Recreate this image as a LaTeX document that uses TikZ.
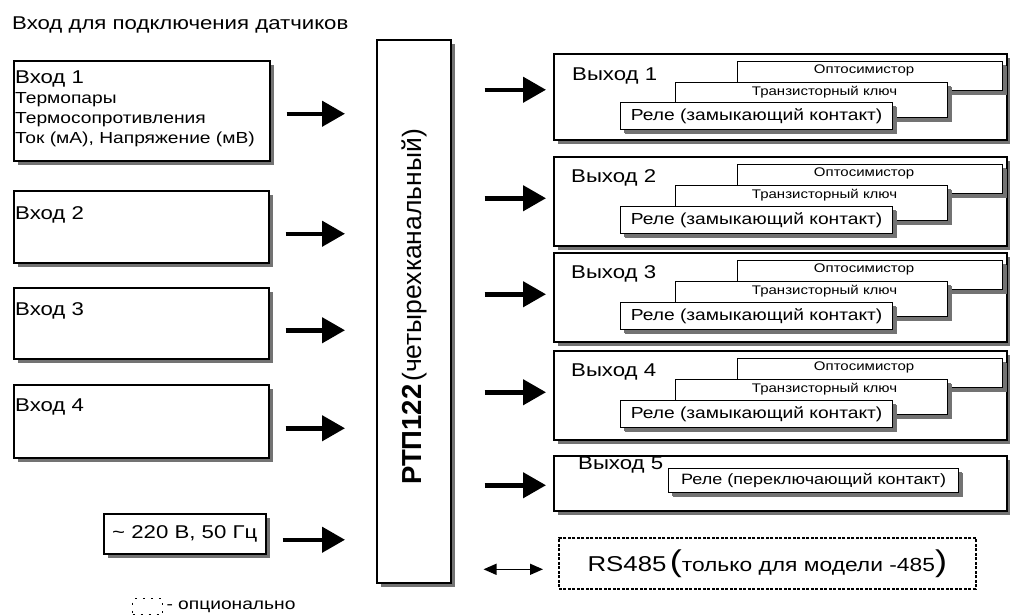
\documentclass[tikz,border=0pt]{standalone}
\usepackage{fontspec}
\setmainfont{Liberation Sans}[FakeStretch=1.2]
\newfontfamily\rotfont{Liberation Sans}
\usetikzlibrary{positioning,shadows,arrows.meta}

\begin{document}
\begin{tikzpicture}[x=1pt,y=-1pt,
	box/.style={draw,line width=1.5pt,fill=white,inner sep=0pt,anchor=north west,
		drop shadow={shadow xshift=4pt,shadow yshift=-4pt,fill=black!55,opacity=1}},
	inbox/.style={box,line width=1.2pt,
		drop shadow={shadow xshift=3pt,shadow yshift=-3pt,fill=black!55,opacity=1}},
	lbl/.style={anchor=north west,inner sep=0pt,align=left,font=\fontsize{18.5}{22}\selectfont},
	big/.style={font=\fontsize{18.5}{22}\selectfont},
	sub/.style={font=\fontsize{16}{20}\selectfont},
	tiny/.style={font=\fontsize{12.5}{14}\selectfont},
	bigarrow/.style={line width=4.5pt,-{Triangle[length=23pt,width=25pt]}},
	inarrow/.style={bigarrow,shorten <=16pt,shorten >=31pt},
	outarrow/.style={bigarrow,shorten <=33pt,shorten >=7pt},
	opt/.style={draw,dashed,fill=white,anchor=north west,inner sep=0pt}]

	\useasboundingbox (0,0) rectangle (1010,616);

	\node[anchor=west,inner sep=0pt,font=\fontsize{18.5}{22}\selectfont] (title) at (12,25) {Вход для подключения датчиков};

	% inputs
	\node[box,minimum width=256pt,minimum height=100pt] (in1) at (13,60) {};
	\node[lbl,sub] (in1t) at (15,71) {{\fontsize{18.5}{22}\selectfont Вход 1}\\Термопары\\Термосопротивления\\Ток (мА), Напряжение (мВ)};
	\node[box,minimum width=255pt,minimum height=72pt] (in2) at (13,190) {};
	\node[lbl] (in2t) at (15,206) {Вход 2};
	\node[box,minimum width=255pt,minimum height=71pt] (in3) at (13,287) {};
	\node[lbl] (in3t) at (15,302) {Вход 3};
	\node[box,minimum width=255pt,minimum height=73pt] (in4) at (13,384) {};
	\node[lbl] (in4t) at (15,399) {Вход 4};
	\node[box,big,minimum width=162pt,minimum height=40pt] (pwr) at (103,513) {\textasciitilde{} 220 В, 50 Гц};

	% device
	\node[box,minimum width=74pt,minimum height=543pt] (rtp) at (376,39) {};
	\node[rotate=90,inner sep=0pt,font=\rotfont] (rtpt) at (414,307) {{\fontsize{27.5}{30}\selectfont\bfseries РТП122} {\fontsize{26.5}{30}\selectfont(четырехканальный)}};

	\draw[inarrow] ([yshift=-3pt]in1.east) -- ([yshift=-3pt]in1.east -| rtp.west);
	\draw[inarrow] ([yshift=-7pt]in2.east) -- ([yshift=-7pt]in2.east -| rtp.west);
	\draw[inarrow] ([yshift=-7pt]in3.east) -- ([yshift=-7pt]in3.east -| rtp.west);
	\draw[inarrow] ([yshift=-7pt]in4.east) -- ([yshift=-7pt]in4.east -| rtp.west);
	\draw[inarrow] ([yshift=-6pt]pwr.east) -- ([yshift=-6pt]pwr.east -| rtp.west);

	% outputs 1-4
	\node[box,minimum width=453pt,minimum height=86pt] (out1) at (553,53) {};
	\node[big,anchor=west,inner sep=0pt] (out1t) at ([shift={(19pt,-23pt)}]out1.north west) {Выход 1};
	\node[inbox,minimum width=265pt,minimum height=29pt] (opto1) at ([shift={(184pt,-8pt)}]out1.north west) {};
	\node[tiny] at ([shift={(-6pt,-9pt)}]opto1.north) {Оптосимистор};
	\node[inbox,minimum width=272pt,minimum height=35pt] (tr1) at ([shift={(122pt,-29pt)}]out1.north west) {};
	\node[tiny] at ([shift={(13pt,-10pt)}]tr1.north) {Транзисторный ключ};
	\node[inbox,sub,minimum width=272pt,minimum height=27pt] (rel1) at ([shift={(67pt,-49pt)}]out1.north west) {Реле (замыкающий контакт)};

	\node[box,minimum width=453pt,minimum height=89pt] (out2) at (553,156) {};
	\node[big,anchor=west,inner sep=0pt] (out2t) at ([shift={(18pt,-22pt)}]out2.north west) {Выход 2};
	\node[inbox,minimum width=265pt,minimum height=29pt] (opto2) at ([shift={(184pt,-8pt)}]out2.north west) {};
	\node[tiny] at ([shift={(-6pt,-9pt)}]opto2.north) {Оптосимистор};
	\node[inbox,minimum width=272pt,minimum height=35pt] (tr2) at ([shift={(122pt,-29pt)}]out2.north west) {};
	\node[tiny] at ([shift={(13pt,-10pt)}]tr2.north) {Транзисторный ключ};
	\node[inbox,sub,minimum width=272pt,minimum height=27pt] (rel2) at ([shift={(67pt,-50pt)}]out2.north west) {Реле (замыкающий контакт)};

	\node[box,minimum width=453pt,minimum height=89pt] (out3) at (553,252) {};
	\node[big,anchor=west,inner sep=0pt] (out3t) at ([shift={(18pt,-22pt)}]out3.north west) {Выход 3};
	\node[inbox,minimum width=265pt,minimum height=29pt] (opto3) at ([shift={(184pt,-8pt)}]out3.north west) {};
	\node[tiny] at ([shift={(-6pt,-9pt)}]opto3.north) {Оптосимистор};
	\node[inbox,minimum width=272pt,minimum height=35pt] (tr3) at ([shift={(122pt,-29pt)}]out3.north west) {};
	\node[tiny] at ([shift={(13pt,-10pt)}]tr3.north) {Транзисторный ключ};
	\node[inbox,sub,minimum width=272pt,minimum height=27pt] (rel3) at ([shift={(67pt,-50pt)}]out3.north west) {Реле (замыкающий контакт)};

	\node[box,minimum width=453pt,minimum height=89pt] (out4) at (553,350) {};
	\node[big,anchor=west,inner sep=0pt] (out4t) at ([shift={(18pt,-22pt)}]out4.north west) {Выход 4};
	\node[inbox,minimum width=265pt,minimum height=29pt] (opto4) at ([shift={(184pt,-8pt)}]out4.north west) {};
	\node[tiny] at ([shift={(-6pt,-9pt)}]opto4.north) {Оптосимистор};
	\node[inbox,minimum width=272pt,minimum height=35pt] (tr4) at ([shift={(122pt,-29pt)}]out4.north west) {};
	\node[tiny] at ([shift={(13pt,-10pt)}]tr4.north) {Транзисторный ключ};
	\node[inbox,sub,minimum width=272pt,minimum height=27pt] (rel4) at ([shift={(67pt,-50pt)}]out4.north west) {Реле (замыкающий контакт)};

	% output 5 and RS485
	\node[box,minimum width=453pt,minimum height=55pt] (out5) at (553,455) {};
	\node[big,anchor=west,inner sep=0pt] (out5t) at ([shift={(25pt,-10pt)}]out5.north west) {Выход 5};
	\node[inbox,font=\fontsize{15}{18}\selectfont,minimum width=290pt,minimum height=24pt] (rel5) at (668,468) {Реле (переключающий контакт)};

	\node[opt,line width=1.6pt,dash pattern=on 3pt off 1.5pt,minimum width=417pt,minimum height=51pt] (rs) at (558,537)
		{{\fontsize{21.5}{24}\selectfont RS485} {\fontsize{30}{30}\selectfont(}{\fontsize{19}{22}\selectfont только для модели -485}{\fontsize{30}{30}\selectfont)}};

	\draw[outarrow] ([yshift=7pt]out1.west -| rtp.east) -- ([yshift=7pt]out1.west);
	\draw[outarrow] ([yshift=3pt]out2.west -| rtp.east) -- ([yshift=3pt]out2.west);
	\draw[outarrow] ([yshift=3pt]out3.west -| rtp.east) -- ([yshift=3pt]out3.west);
	\draw[outarrow] ([yshift=3pt]out4.west -| rtp.east) -- ([yshift=3pt]out4.west);
	\draw[outarrow] ([yshift=-2pt]out5.west -| rtp.east) -- ([yshift=-2pt]out5.west);
	\draw[{Triangle[length=13pt,width=11pt]}-{Triangle[length=13pt,width=11pt]},line width=1.4pt,shorten <=32pt,shorten >=15pt]
		([yshift=-6pt]rs.west -| rtp.east) -- ([yshift=-6pt]rs.west);

	% legend
	\node[opt,line width=1.3pt,dash pattern=on 2pt off 6pt,minimum width=30pt,minimum height=16pt] (leg) at (132,598) {};
	\node[sub,right=3pt of leg,inner sep=0pt] (legt) {- опционально};

\end{tikzpicture}
\end{document}
